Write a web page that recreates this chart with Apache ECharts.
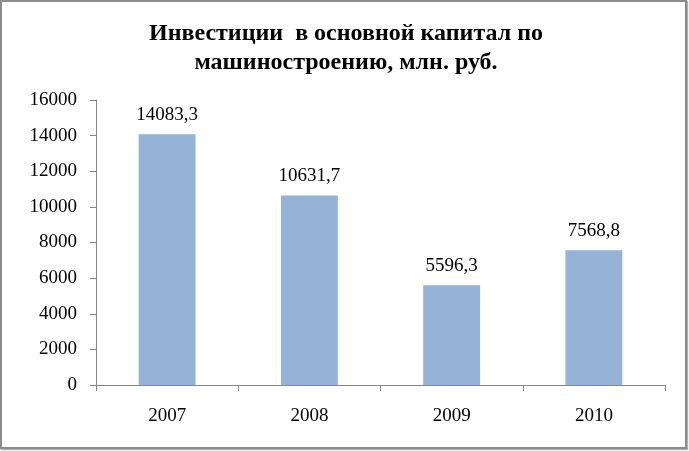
<!DOCTYPE html>
<html>
<head>
<meta charset="utf-8">
<script src="https://cdn.jsdelivr.net/npm/echarts@6/dist/echarts.min.js"></script>
<style>
html,body{margin:0;padding:0;background:#fff;}
#wrap{position:relative;width:689px;height:451px;}
#chart{position:absolute;left:0;top:0;width:689px;height:451px;}
#frame{position:absolute;left:0;top:0;width:687px;height:449px;box-sizing:border-box;border:2px solid #8c8c8c;pointer-events:none;box-shadow:1px 1px 1px #b0b0b0;}
</style>
</head>
<body>
<div id="wrap"><div id="chart"></div><div id="frame"></div></div>
<script>
const categories = ['2007', '2008', '2009', '2010'];
const values = [14083.3, 10631.7, 5596.3, 7568.8];
const titleLines = ['Инвестиции  в основной капитал по', 'машиностроению, млн. руб.'];

const chart = echarts.init(document.getElementById('chart'));
const serif = '"Liberation Serif", "DejaVu Serif", serif';
chart.setOption({
  backgroundColor: '#ffffff',
  animation: false,
  title: {
    text: titleLines.join('\n'),
    left: 341, top: 14, textAlign: 'center',
    textStyle: {fontFamily: serif, fontWeight: 'bold', fontSize: 24, color: '#000', lineHeight: 29}
  },
  grid: {left: 96, right: 24, top: 100, bottom: 66},
  xAxis: {
    type: 'category', data: categories,
    axisLine: {lineStyle: {color: '#868686', width: 1}},
    axisTick: {show: true, alignWithLabel: false, length: 6, lineStyle: {color: '#868686'}},
    axisLabel: {fontFamily: serif, fontSize: 19, color: '#000', margin: 22}
  },
  yAxis: {
    type: 'value', min: 0, max: 16000, interval: 2000,
    axisLine: {show: true, lineStyle: {color: '#868686'}},
    axisTick: {show: true, length: 6, lineStyle: {color: '#868686'}},
    splitLine: {show: false},
    axisLabel: {fontFamily: serif, fontSize: 19, color: '#000', margin: 19, formatter: v => String(v)}
  },
  series: [{
    type: 'bar', data: values, barWidth: '40%',
    itemStyle: {color: '#95B3D7'},
    label: {
      show: true, position: 'top', distance: 10,
      fontFamily: serif, fontSize: 19, color: '#000',
      formatter: p => String(p.value).replace('.', ',')
    }
  }]
});
</script>
</body>
</html>
